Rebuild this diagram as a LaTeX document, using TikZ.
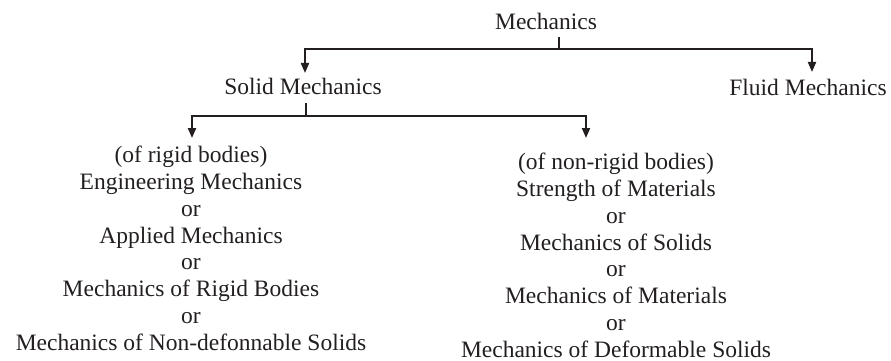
\documentclass[tikz,border=0pt]{standalone}
\usepackage{fontspec}
\setmainfont{Liberation Serif}
\usetikzlibrary{arrows.meta}
\definecolor{ink}{HTML}{231F20}
\begin{document}
\begin{tikzpicture}[x=1pt,y=-1pt,
  lbl/.style={inner sep=0pt,anchor=base,text=ink,font=\fontsize{23.5}{26.8}\selectfont},
  blk/.style={lbl,align=center,anchor=north},
  conn/.style={draw=ink,line width=2pt},
  arr/.style={conn,-{Triangle[width=8pt,length=10pt]}}]
\useasboundingbox (0,0) rectangle (891,361);
\node[lbl] (mech) at (546,30) {Mechanics};
\node[lbl] (solid) at (303,94) {Solid Mechanics};
\node[lbl] (fluid) at (808,95) {Fluid Mechanics};
\node[blk] (rigid) at (191,146) {(of rigid bodies)\\Engineering Mechanics\\or\\Applied Mechanics\\or\\Mechanics of Rigid Bodies\\or\\Mechanics of Non-defonnable Solids};
\node[blk] (nonrigid) at (616,153) {(of non-rigid bodies)\\Strength of Materials\\or\\Mechanics of Solids\\or\\Mechanics of Materials\\or\\Mechanics of Deformable Solids};
% junction coordinates
\coordinate (mstem) at (559,37);
\coordinate (mbar) at (559,49);
\coordinate (solidin) at (305,73);
\coordinate (fluidin) at (812,72);
\coordinate (sstem) at (306,103);
\coordinate (sbar) at (306,116);
\coordinate (rigidin) at (192,138);
\coordinate (nonrigidin) at (586,138);
\draw[conn] (mstem) -- (mbar);
\draw[arr] (mbar) -| (solidin);
\draw[arr] (mbar) -| (fluidin);
\draw[conn] (sstem) -- (sbar);
\draw[arr] (sbar) -| (rigidin);
\draw[arr] (sbar) -| (nonrigidin);
\end{tikzpicture}
\end{document}
